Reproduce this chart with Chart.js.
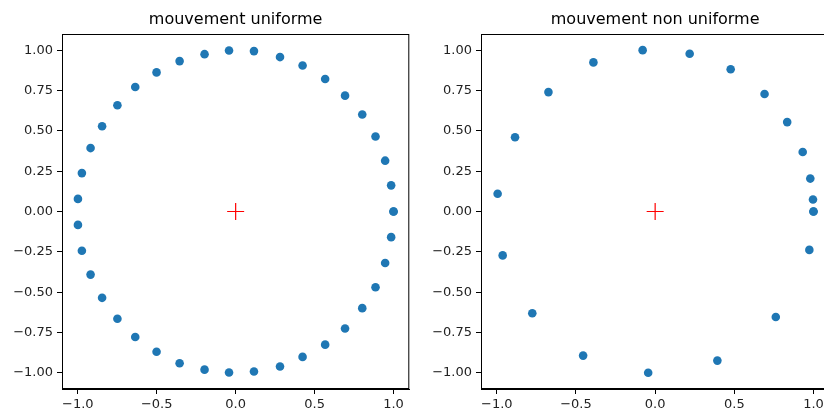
<!DOCTYPE html>
<html lang="fr">
<head>
    <meta charset="UTF-8">
    <title>Mouvement circulaire</title>
    <script src="https://cdn.jsdelivr.net/npm/chart.js"></script>
    <style>
        html, body { margin: 0; padding: 0; background: #fff; overflow: hidden; width: 824px; height: 410px; }
        canvas { position: absolute; top: 0; }
        #left { left: 0; }
        #right { left: 419px; }
    </style>
</head>
<body>
    <canvas id="left" width="419" height="410"></canvas>
    <canvas id="right" width="420" height="410"></canvas>

    <script>
        // positions
        const uniformX = [1.0, 0.985, 0.947, 0.886, 0.802, 0.693, 0.567, 0.424, 0.281, 0.116, -0.042, -0.197, -0.355, -0.501, -0.636, -0.749, -0.846, -0.919, -0.974, -0.999,
            -0.999, -0.974, -0.919, -0.846, -0.749, -0.636, -0.501, -0.355, -0.197, -0.042, 0.116, 0.281, 0.424, 0.567, 0.693, 0.802, 0.886, 0.947, 0.985, 1.0];
        const uniformY = [0.0, 0.162, 0.315, 0.465, 0.601, 0.718, 0.821, 0.905, 0.957, 0.994, 0.998, 0.975, 0.932, 0.862, 0.772, 0.658, 0.528, 0.393, 0.238, 0.078,
            -0.083, -0.243, -0.391, -0.535, -0.665, -0.778, -0.869, -0.940, -0.980, -0.998, -0.992, -0.961, -0.901, -0.825, -0.725, -0.599, -0.469, -0.319, -0.159, 0.0];

        const nonUniformX = [1.0, 0.997, 0.980, 0.932, 0.834, 0.691, 0.477, 0.218, -0.079, -0.390, -0.674, -0.885, -0.995, -0.963, -0.776, -0.455, -0.044, 0.393, 0.762, 0.974, 1.0];
        const nonUniformY = [0.0, 0.074, 0.204, 0.369, 0.554, 0.728, 0.882, 0.978, 1.0, 0.924, 0.740, 0.460, 0.110, -0.272, -0.631, -0.893, -0.999, -0.924, -0.654, -0.238, 0.0];

        const centre = [0, 0];
        const xTicks = [-1.0, -0.5, 0.0, 0.5, 1.0];
        const yTicks = [-1.0, -0.75, -0.5, -0.25, 0.0, 0.25, 0.5, 0.75, 1.0];

        const tickFont = { family: 'DejaVu Sans', size: 13 };

        function fmt(v, d) {
            return v.toFixed(d).replace('-', '\u2212');
        }

        const framePlugin = {
            id: 'frame',
            afterDraw(chart, args, opts) {
                const { ctx, chartArea: a } = chart;
                ctx.save();
                ctx.strokeStyle = '#000';
                ctx.lineWidth = 1;
                ctx.strokeRect(a.left + 0.5, a.top + 0.5, a.right - a.left - 1, a.bottom - a.top - 1);
                ctx.fillStyle = '#000';
                ctx.font = '16px "DejaVu Sans"';
                ctx.textAlign = 'center';
                ctx.textBaseline = 'middle';
                ctx.fillText(opts.text, (a.left + a.right) / 2, 20);
                ctx.restore();
            }
        };

        function makeChart(id, xs, ys, title, padRight) {
            const points = xs.map((x, i) => ({ x: x, y: ys[i] }));
            return new Chart(document.getElementById(id), {
                type: 'scatter',
                data: {
                    datasets: [{
                        data: points,
                        backgroundColor: '#1f77b4',
                        borderColor: '#1f77b4',
                        borderWidth: 0,
                        pointRadius: 4.3,
                        pointHoverRadius: 4.3
                    }, {
                        data: [{ x: centre[0], y: centre[1] }],
                        pointStyle: 'cross',
                        borderColor: '#ff0000',
                        borderWidth: 1.2,
                        pointRadius: 8.5
                    }]
                },
                options: {
                    responsive: false,
                    animation: false,
                    devicePixelRatio: 1,
                    layout: { padding: { top: 34, right: padRight, bottom: 0, left: 0 } },
                    plugins: {
                        legend: { display: false },
                        tooltip: { enabled: false },
                        frame: { text: title }
                    },
                    scales: {
                        x: {
                            type: 'linear',
                            min: -1.1,
                            max: 1.1,
                            afterBuildTicks: s => { s.ticks = xTicks.map(v => ({ value: v })); },
                            afterFit: s => { s.height = 21; s.paddingLeft = 0; s.paddingRight = 0; },
                            grid: { drawOnChartArea: false, drawTicks: true, tickLength: 5, color: '#000' },
                            border: { display: true, color: '#000' },
                            ticks: { font: tickFont, color: '#222', padding: 3, maxRotation: 0, callback: v => fmt(v, 1) }
                        },
                        y: {
                            type: 'linear',
                            min: -1.1,
                            max: 1.1,
                            afterBuildTicks: s => { s.ticks = yTicks.map(v => ({ value: v })); },
                            afterFit: s => { s.width = 62; s.paddingTop = 0; s.paddingBottom = 0; },
                            grid: { drawOnChartArea: false, drawTicks: true, tickLength: 5, color: '#000' },
                            border: { display: true, color: '#000' },
                            ticks: { font: tickFont, color: '#222', padding: 4, callback: v => fmt(v, 2) }
                        }
                    }
                },
                plugins: [framePlugin]
            });
        }

        makeChart('left', uniformX, uniformY, 'mouvement uniforme', 9);
        makeChart('right', nonUniformX, nonUniformY, 'mouvement non uniforme', 0);
    </script>
</body>
</html>
